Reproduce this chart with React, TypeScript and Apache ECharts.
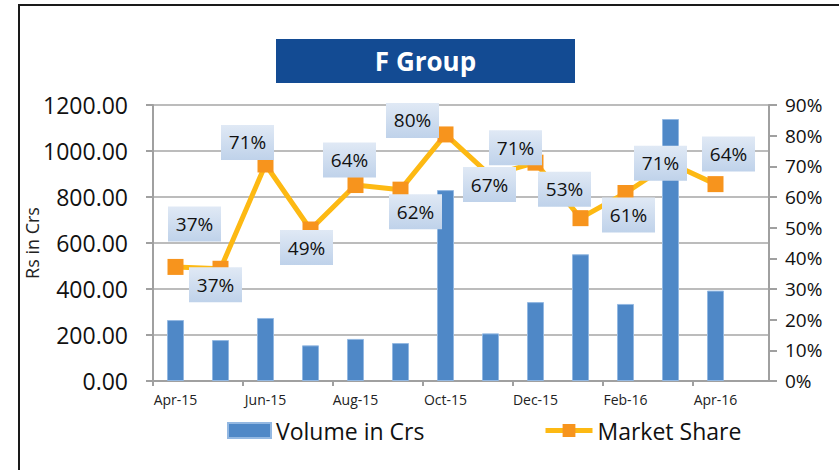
import React, { useEffect, useRef } from "react";
import * as echarts from "echarts";

const categories = [
  "Apr-15", "May-15", "Jun-15", "Jul-15", "Aug-15", "Sep-15", "Oct-15",
  "Nov-15", "Dec-15", "Jan-16", "Feb-16", "Mar-16", "Apr-16",
];
const volume = [265, 178, 274, 155, 183, 165, 830, 207, 343, 551, 335, 1139, 393];
const marketShare = [37.2, 36.6, 70.6, 49.4, 63.9, 62.4, 80.4, 67.0, 71.2, 53.1, 61.3, 71.0, 64.2];
const leftTicks = { min: 0, max: 1200, interval: 200 };
const rightTicks = { min: 0, max: 90, interval: 10 };
// label placement (offset from the point, px) as in the reference
const labelOffsets: [number, number][] = [
  [19, -43], [-5, 16], [-18, -22], [-4, 18], [-6, -25], [15, 22], [-33, -14],
  [-1, 9], [-20, -15], [-16, -29], [3, 22], [-10, 0], [13, -30],
];

const FONT = "'Open Sans', 'DejaVu Sans', sans-serif";

export default function App() {
  const ref = useRef<HTMLDivElement>(null);
  useEffect(() => {
    if (!ref.current) return;
    const chart = echarts.init(ref.current, null, { renderer: "svg" });
    const axisCats = [...categories, ""];
    const option: any = {
      animation: false,
      backgroundColor: "#ffffff",
      textStyle: { fontFamily: FONT },
      grid: { left: 153, right: 56, top: 105, bottom: 89, containLabel: false },
      legend: [
        {
          data: ["Volume in Crs"],
          left: 222,
          top: 414,
          itemWidth: 43,
          itemHeight: 15,
          icon: "rect",
          textStyle: { fontSize: 23, color: "#111", fontFamily: FONT },
        },
        {
          data: ["Market Share"],
          left: 538,
          top: 414,
          itemWidth: 47,
          itemHeight: 16,
          lineStyle: { width: 5 },
          textStyle: { fontSize: 23, color: "#111", fontFamily: FONT },
        },
      ],
      xAxis: {
        type: "category",
        data: axisCats,
        boundaryGap: true,
        z: 0,
        axisLine: { show: true, lineStyle: { color: "#a0a0a0", width: 2 } },
        axisTick: { show: true, interval: 1, length: 5, lineStyle: { color: "#a0a0a0", width: 2 } },
        axisLabel: { interval: 1, fontSize: 14, color: "#222", margin: 11, fontFamily: FONT },
        splitLine: { show: false },
      },
      yAxis: [
        {
          type: "value",
          position: "left",
          min: leftTicks.min,
          max: leftTicks.max,
          interval: leftTicks.interval,
          z: 0,
          name: "Rs in Crs",
          nameLocation: "middle",
          nameRotate: 90,
          nameGap: 112,
          nameMoveOverlap: false,
          nameTextStyle: { fontSize: 18, color: "#222", fontFamily: FONT },
          axisLine: { show: true, lineStyle: { color: "#a0a0a0", width: 2 } },
          axisTick: { show: true, length: 7, lineStyle: { color: "#a0a0a0", width: 2 } },
          axisLabel: {
            fontSize: 23,
            color: "#111",
            margin: 25,
            fontFamily: FONT,
            formatter: (v: number) => v.toFixed(2),
          },
          splitLine: { show: true, lineStyle: { color: "#a6a6a6", width: 1.5 } },
        },
        {
          type: "value",
          position: "right",
          offset: -14,
          min: rightTicks.min,
          max: rightTicks.max,
          interval: rightTicks.interval,
          z: 5,
          axisLine: { show: true, lineStyle: { color: "#a0a0a0", width: 2 } },
          axisTick: { show: true, length: 8, lineStyle: { color: "#a0a0a0", width: 2 } },
          axisLabel: {
            fontSize: 19,
            color: "#111",
            margin: 16,
            fontFamily: FONT,
            formatter: (v: number) => `${v}%`,
          },
          splitLine: { show: false },
        },
      ],
      graphic: [
        {
          type: "rect",
          z: 3,
          shape: { x: 770, y: 95, width: 14, height: 300 },
          style: { fill: "#ffffff" },
          silent: true,
        },
        {
          type: "rect",
          z: 10,
          shape: { x: 19, y: 5, width: 840, height: 480 },
          style: { fill: "none", stroke: "#1a1a1a", lineWidth: 2 },
          silent: true,
        },
        {
          type: "rect",
          z: 10,
          shape: { x: 276, y: 39, width: 299, height: 44 },
          style: { fill: "#134B93" },
        },
        {
          type: "text",
          z: 11,
          x: 425.5,
          y: 61,
          style: {
            text: "F Group",
            fill: "#ffffff",
            fontSize: 26,
            fontWeight: "bold",
            fontFamily: FONT,
            align: "center",
            verticalAlign: "middle",
          },
        },
      ],
      series: [
        {
          name: "Volume in Crs",
          type: "bar",
          yAxisIndex: 0,
          barWidth: 17,
          data: [...volume, null],
          itemStyle: { color: "#4F88C7", borderColor: "#93b8e2", borderWidth: 1 },
          z: 2,
        },
        {
          name: "Market Share",
          type: "line",
          yAxisIndex: 1,
          symbol: "rect",
          symbolSize: 16,
          z: 3,
          data: [
            ...marketShare.map((v, i) => ({
              value: v,
              label: { offset: labelOffsets[i] },
            })),
            null,
          ],
          lineStyle: { color: "#FDB913", width: 5 },
          itemStyle: { color: "#F7941D" },
          label: {
            show: true,
            position: "inside",
            formatter: (p: any) => `${Math.round(p.value)}%`,
            fontSize: 19,
            color: "#111",
            fontFamily: FONT,
            width: 53,
            height: 35,
            lineHeight: 35,
            align: "center",
            verticalAlign: "middle",
            backgroundColor: {
              type: "linear",
              x: 0,
              y: 0,
              x2: 0,
              y2: 1,
              colorStops: [
                { offset: 0, color: "#e0e9f5" },
                { offset: 1, color: "#bfd2ea" },
              ],
            },
          },
        },
      ],
    };
    chart.setOption(option);
    return () => chart.dispose();
  }, []);
  return (
    <div
      ref={ref}
      style={{ position: "absolute", left: 0, top: 0, width: 839, height: 470, background: "#fff" }}
    />
  );
}
